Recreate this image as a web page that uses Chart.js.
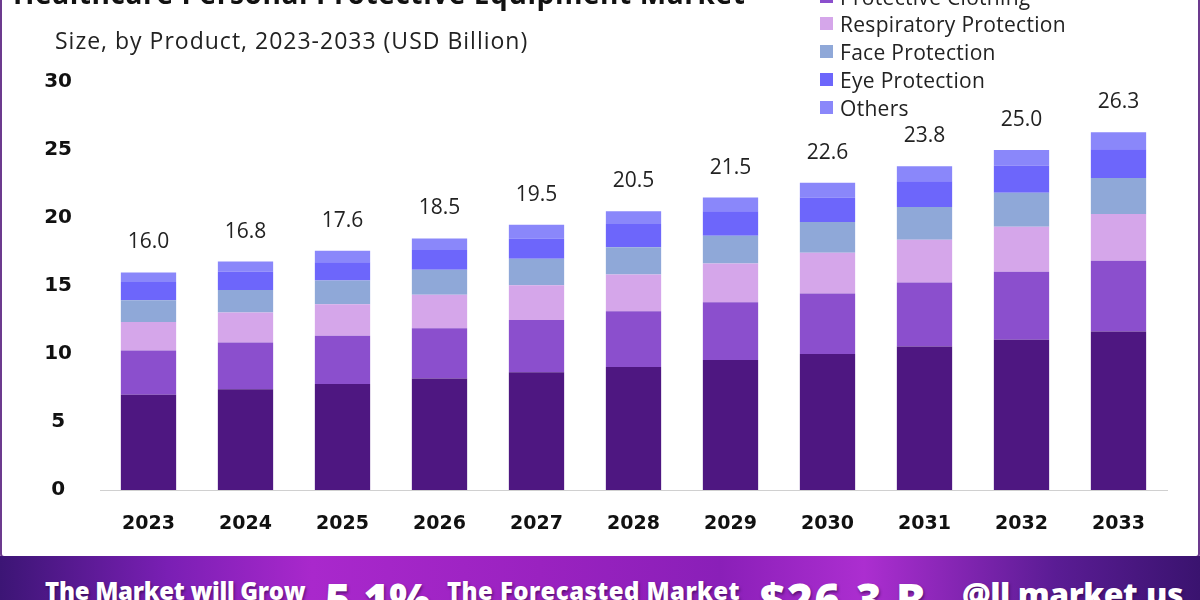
<!DOCTYPE html>
<html>
<head>
<meta charset="utf-8">
<script src="https://cdn.jsdelivr.net/npm/chart.js@4.4.1/dist/chart.umd.min.js"></script>
<style>
  html, body { margin: 0; padding: 0; background: #fff; }
  #wrap { position: relative; width: 1200px; height: 600px; overflow: hidden; font-family: "Open Sans", sans-serif; }
  #panel { position: absolute; left: 0; top: -10px; width: 1196px; height: 564px; border: 2px solid #6c3a8e; border-radius: 4px; background: #fff; }
  #chart { position: absolute; left: 0; top: 0; }
  #title { position: absolute; left: 13px; top: -26px; font: 700 28px "Open Sans", sans-serif; color: #111; white-space: nowrap; letter-spacing: 0.6px; }
  #subtitle { position: absolute; left: 55px; top: 24px; font: 400 23px "Open Sans", sans-serif; color: #222; white-space: nowrap; letter-spacing: 1px; }
  #legend { position: absolute; left: 820px; top: 0; }
  .lg { position: absolute; left: 0; height: 28px; white-space: nowrap; font: 400 21px "Open Sans", sans-serif; color: #222; letter-spacing: 0.3px; }
  .lg span.sw { position: absolute; left: 0; top: 7px; width: 13px; height: 13px; }
  .lg span.tx { position: absolute; left: 20px; top: 0; line-height: 28px; }
  #banner { position: absolute; left: 0; top: 556px; width: 1200px; height: 44px;
    background: linear-gradient(90deg, #3c1575 0%, #7a1fb4 14%, #a928cc 26%, #9a22c0 45%, #8a1fb8 60%, #ac2ed0 72%, #5a1c94 88%, #3a136f 100%); }
  .bt { position: absolute; color: #fff; font-family: "Open Sans", sans-serif; font-weight: 800; white-space: nowrap; text-shadow: 1px 2px 3px rgba(40,0,60,0.6); }
</style>
</head>
<body>
<div id="wrap">
  <div id="panel"></div>
  <canvas id="chart" width="1200" height="600"></canvas>
  <div id="title">Healthcare Personal Protective Equipment Market</div>
  <div id="subtitle">Size, by Product, 2023-2033 (USD Billion)</div>
  <div id="legend"></div>
  <div id="banner">
    <div class="bt" style="left:45px; top:18px; font-size:24px; letter-spacing:-0.3px;">The Market will Grow</div>
    <div class="bt" style="left:325px; top:13px; font-size:44px;">5.1%</div>
    <div class="bt" style="left:447px; top:18px; font-size:24px; letter-spacing:0.4px;">The Forecasted Market</div>
    <div class="bt" style="left:760px; top:13px; font-size:44px; letter-spacing:1.5px;">$26.3 B</div>
    <div class="bt" style="left:962px; top:16px; font-size:32px; letter-spacing:-0.5px;">@ll market.us</div>
  </div>
</div>
<script>
const years = ['2023', '2024', '2025', '2026', '2027', '2028', '2029', '2030', '2031', '2032', '2033']
const totals = ['16.0', '16.8', '17.6', '18.5', '19.5', '20.5', '21.5', '22.6', '23.8', '25.0', '26.3']

const seriesNames = ['Gloves', 'Protective Clothing', 'Respiratory Protection', 'Face Protection', 'Eye Protection', 'Others']
const seriesColors = ['#4e1781', '#8b4fcd', '#d5a6ea', '#8fa8d8', '#6d66fb', '#8a87fa']

const gloves = [7.0, 7.4, 7.8, 8.2, 8.65, 9.05, 9.55, 10.0, 10.55, 11.05, 11.65]
const clothing = [3.25, 3.45, 3.55, 3.7, 3.85, 4.1, 4.25, 4.45, 4.7, 5.0, 5.2]
const respiratory = [2.1, 2.2, 2.3, 2.45, 2.55, 2.7, 2.85, 3.0, 3.15, 3.3, 3.45]
const face = [1.6, 1.65, 1.75, 1.85, 1.95, 2.0, 2.05, 2.25, 2.4, 2.5, 2.65]
const eye = [1.35, 1.35, 1.35, 1.45, 1.5, 1.7, 1.8, 1.8, 1.9, 2.0, 2.1]
const others = [0.7, 0.75, 0.85, 0.85, 1.0, 0.95, 1.0, 1.1, 1.1, 1.15, 1.25]

const yTicks = [0, 5, 10, 15, 20, 25, 30]

const seriesData = [gloves, clothing, respiratory, face, eye, others]

// legend (first rows sit above the visible top, like the cropped original)
const legendEl = document.getElementById('legend')
seriesNames.forEach((name, i) => {
    const row = document.createElement('div')
    row.className = 'lg'
    row.style.top = (-45 + i * 27.7) + 'px'
    row.innerHTML = '<span class="sw" style="background:' + seriesColors[i] + '"></span><span class="tx">' + name + '</span>'
    legendEl.appendChild(row)
})

const totalLabels = {
    id: 'totalLabels',
    afterDatasetsDraw(chart) {
        const ctx = chart.ctx
        const meta = chart.getDatasetMeta(chart.data.datasets.length - 1)
        ctx.save()
        ctx.font = '400 21px "Open Sans", sans-serif'
        ctx.fillStyle = '#222'
        ctx.textAlign = 'center'
        ctx.textBaseline = 'middle'
        meta.data.forEach((bar, i) => {
            ctx.fillText(totals[i], bar.x, bar.y - 30)
        })
        ctx.restore()
    }
}

new Chart(document.getElementById('chart'), {
    type: 'bar',
    data: {
        labels: years,
        datasets: seriesData.map((d, i) => ({
            label: seriesNames[i],
            data: d,
            backgroundColor: seriesColors[i],
            borderWidth: 0,
            barPercentage: 0.57,
            categoryPercentage: 1.0
        }))
    },
    options: {
        responsive: false,
        animation: false,
        layout: {
            padding: { left: 0, right: 33, top: 82, bottom: 50 }
        },
        scales: {
            x: {
                stacked: true,
                grid: { display: false, drawTicks: false },
                border: { display: true, color: '#d0d0d0', width: 1 },
                ticks: {
                    color: '#111',
                    padding: 23,
                    font: { size: 19, weight: 700, family: 'DejaVu Sans' }
                },
                afterFit: s => { s.height = 60 }
            },
            y: {
                stacked: true,
                min: 0,
                max: 30,
                grid: { display: false, drawTicks: false },
                border: { display: false },
                afterBuildTicks: s => { s.ticks = yTicks.map(v => ({ value: v })) },
                ticks: {
                    color: '#111',
                    padding: 28,
                    crossAlign: 'center',
                    font: { size: 20, weight: 700, family: 'DejaVu Sans' }
                },
                afterFit: s => { s.width = 100 }
            }
        },
        plugins: {
            legend: { display: false },
            tooltip: { enabled: false }
        }
    },
    plugins: [totalLabels]
})
</script>
</body>
</html>
